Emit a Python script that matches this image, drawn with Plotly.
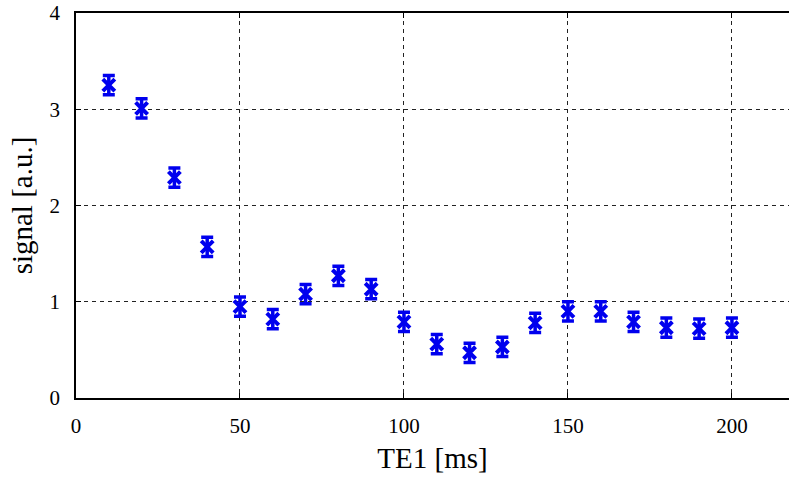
import plotly.graph_objects as go

te1 = [10, 20, 30, 40, 50, 60, 70, 80, 90, 100, 110, 120, 130, 140, 150, 160, 170, 180, 190, 200]
signal = [3.25, 3.01, 2.29, 1.57, 0.95, 0.82, 1.08, 1.27, 1.13, 0.79, 0.56, 0.47, 0.53, 0.78, 0.90, 0.90, 0.79, 0.73, 0.72, 0.73]
err = [0.1] * len(te1)

x_ticks = [0, 50, 100, 150, 200]
y_ticks = [0, 1, 2, 3, 4]

font_family = "Liberation Serif"

fig = go.Figure()
fig.add_trace(go.Scatter(
    x=te1, y=signal, mode="markers",
    marker=dict(symbol="x-thin", size=12, color="#0000ee", line=dict(width=4, color="#0000ee")),
    error_y=dict(type="data", array=err, visible=True, color="#0000ee", thickness=3.5, width=6),
    showlegend=False,
))

fig.update_layout(
    width=789, height=477,
    margin=dict(l=76, r=0, t=13, b=79),
    plot_bgcolor="white", paper_bgcolor="white",
    font=dict(family=font_family, color="black", size=20),
)
fig.update_xaxes(
    range=[0, 217.4], tickvals=x_ticks, ticktext=[str(v) for v in x_ticks],
    showline=True, linecolor="black", linewidth=1.5, mirror="ticks",
    ticks="inside", ticklen=5, tickcolor="black",
    showgrid=True, gridcolor="#222222", gridwidth=1, griddash="4px,4px",
    zeroline=False, automargin=False,
    title=dict(text="TE1 [ms]", font=dict(size=29, family=font_family), standoff=11),
    tickfont=dict(size=21, family=font_family),
    ticklabelstandoff=8,
)
fig.update_yaxes(
    range=[0, 4], tickvals=y_ticks, ticktext=[str(v) for v in y_ticks],
    showline=True, linecolor="black", linewidth=1.5, mirror=False,
    ticks="inside", ticklen=5, tickcolor="black",
    showgrid=True, gridcolor="#222222", gridwidth=1, griddash="4px,4px",
    zeroline=False, automargin=False,
    title=dict(text="signal [a.u.]", font=dict(size=29, family=font_family), standoff=8),
    tickfont=dict(size=21, family=font_family),
    ticklabelstandoff=10,
)

fig.write_html("out.html", config={"displayModeBar": False},
               post_script="document.body.style.margin='0';")
